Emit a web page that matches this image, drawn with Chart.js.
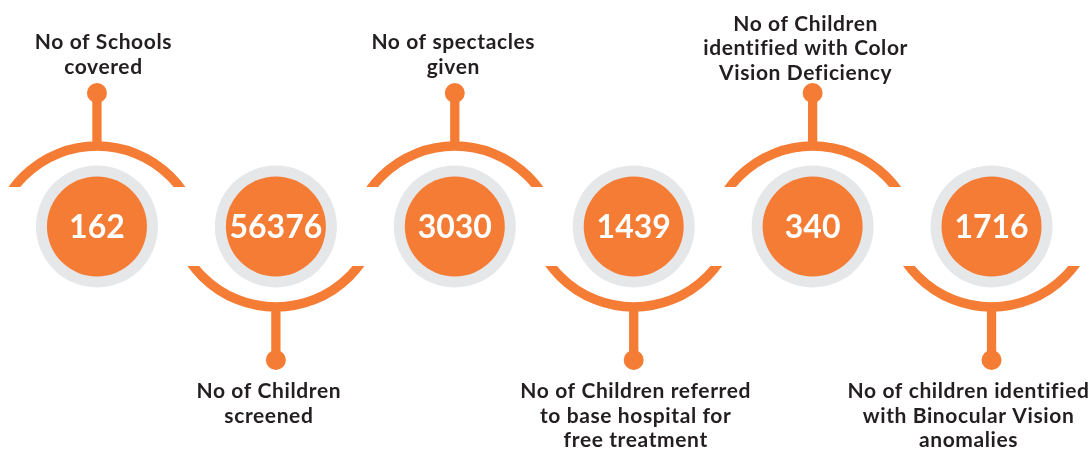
<!DOCTYPE html>
<html>
<head>
<meta charset="utf-8">
<script src="https://cdn.jsdelivr.net/npm/chart.js@4"></script>
<style>
  html, body { margin: 0; padding: 0; background: #ffffff; }
  #wrap { width: 1092px; height: 451px; }
</style>
</head>
<body>
<div id="wrap"><canvas id="c" width="1092" height="451"></canvas></div>
<script>
// ---- data ----
const categories = [
  ['No of Schools', 'covered'],
  ['No of Children', 'screened'],
  ['No of spectacles', 'given'],
  ['No of Children referred', 'to base hospital for', 'free treatment'],
  ['No of Children', 'identified with Color', 'Vision Deficiency'],
  ['No of children identified', 'with Binocular Vision', 'anomalies']
];
const values = [162, 56376, 3030, 1439, 340, 1716];

// ---- styling / layout (not data) ----
const ORANGE = '#F47C35';
const GREY = '#E6E7E9';
const TEXT = '#231F20';
const labelDx = [6.5, -7, -1.5, 2, -7, -23];
const topLastBaseline = [73.5, null, 73.5, null, 79.5, null];
const bottomFirstBaseline = 398.3;
const lineH = 24.5;

const keys = categories.map(c => c.join(' '));
const points = keys.map((k, i) => ({ x: k, y: 0, v: values[i] }));

const decor = {
  id: 'decor',
  afterDatasetsDraw(chart) {
    const ctx = chart.ctx;
    const meta = chart.getDatasetMeta(0);
    const H = chart.height;
    meta.data.forEach((pt, i) => {
      const x = pt.x, y = pt.y;
      const top = i % 2 === 0;
      const s = top ? -1 : 1;
      ctx.save();
      // arc
      ctx.save();
      ctx.beginPath();
      if (top) ctx.rect(x - 130, 0, 260, y - 39.5);
      else ctx.rect(x - 130, y + 39.5, 260, H - (y + 39.5));
      ctx.clip();
      ctx.beginPath();
      ctx.arc(x, y - s * 23.3, 103.8, 0, Math.PI * 2);
      ctx.strokeStyle = ORANGE;
      ctx.lineWidth = 9.4;
      ctx.stroke();
      ctx.restore();
      // stem
      const arcEdge = y - s * 23.3 + s * 103.8;
      const dotY = y + s * 133.5;
      ctx.fillStyle = ORANGE;
      ctx.fillRect(x - 4.65, Math.min(arcEdge, dotY), 9.3, Math.abs(arcEdge - dotY));
      ctx.beginPath();
      ctx.arc(x, dotY, 10, 0, Math.PI * 2);
      ctx.fill();
      // label
      const lines = categories[i];
      ctx.fillStyle = TEXT;
      ctx.font = 'bold 21px Lato, "DejaVu Sans", sans-serif';
      ctx.letterSpacing = '0.6px';
      ctx.textAlign = 'center';
      ctx.textBaseline = 'alphabetic';
      const lx = x + labelDx[i];
      let first;
      if (top) first = topLastBaseline[i] - (lines.length - 1) * lineH;
      else first = bottomFirstBaseline;
      lines.forEach((ln, j) => ctx.fillText(ln, lx, first + j * lineH));
      // value
      ctx.letterSpacing = '0px';
      ctx.fillStyle = '#ffffff';
      ctx.font = 'bold 32px Lato, "DejaVu Sans", sans-serif';
      ctx.textBaseline = 'middle';
      ctx.fillText(String(values[i]), x, y + 1);
      ctx.restore();
    });
  }
};

new Chart(document.getElementById('c'), {
  type: 'line',
  data: {
    labels: keys,
    datasets: [
      { label: 'value', data: points, showLine: false, pointRadius: 50, pointHoverRadius: 50,
        pointBackgroundColor: ORANGE, pointBorderWidth: 0, pointStyle: 'circle', clip: false, order: 0 },
      { label: 'ring', data: points, showLine: false, pointRadius: 61, pointHoverRadius: 61,
        pointBackgroundColor: GREY, pointBorderWidth: 0, pointStyle: 'circle', clip: false, order: 1 }
    ]
  },
  options: {
    responsive: false,
    animation: false,
    events: [],
    layout: { autoPadding: false, padding: { left: 7.5, right: 11, top: 2, bottom: 0 } },
    scales: {
      x: { type: 'category', offset: true, display: false },
      y: { type: 'linear', min: -1, max: 1, display: false }
    },
    plugins: { legend: { display: false }, tooltip: { enabled: false } }
  },
  plugins: [decor]
});
</script>
</body>
</html>
